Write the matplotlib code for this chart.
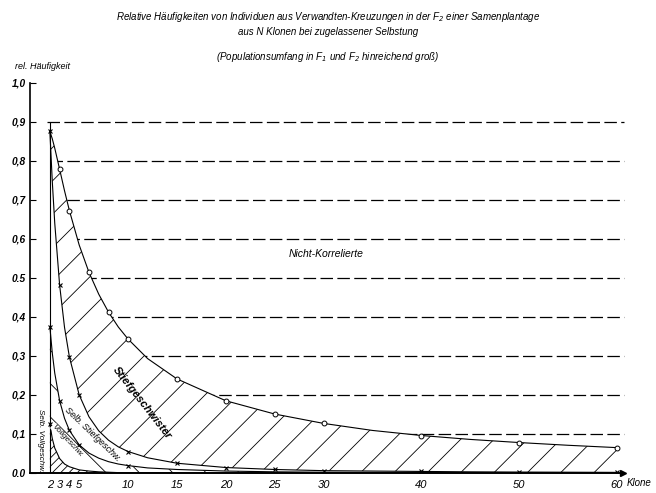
import numpy as np
import matplotlib
matplotlib.use("Agg")
import matplotlib.pyplot as plt

# number of clones N and cumulative relative frequencies
n_klone = [2, 2.25, 2.5, 3, 3.5, 4, 5, 6, 7, 8, 9, 10, 12, 15, 20, 25, 30, 35, 40, 45, 50, 55, 60]
# upper edge "Selb. Vollgeschw."
selb_voll = [0.125, 0.088, 0.064, 0.037, 0.023, 0.016, 0.008, 0.005, 0.003, 0.002, 0.001, 0.001,
             0.001, 0.0003, 0.0001, 0.0001, 0.0, 0.0, 0.0, 0.0, 0.0, 0.0, 0.0]
# upper edge "Vollgeschw."
voll = [0.375, 0.307, 0.256, 0.185, 0.140, 0.109, 0.072, 0.051, 0.038, 0.029, 0.023, 0.019,
        0.013, 0.009, 0.005, 0.003, 0.002, 0.0016, 0.0012, 0.001, 0.0008, 0.0007, 0.0006]
# upper edge "Selb. Stiefgeschw."
selb_stief = [0.875, 0.746, 0.640, 0.481, 0.373, 0.297, 0.200, 0.144, 0.108, 0.084, 0.067, 0.055,
              0.039, 0.025, 0.014, 0.009, 0.006, 0.005, 0.004, 0.003, 0.0024, 0.002, 0.0016]
# upper edge "Stiefgeschwister" (rest = Nicht-Korrelierte)
stief = [0.875, 0.856, 0.832, 0.778, 0.723, 0.672, 0.584, 0.514, 0.458, 0.412, 0.374, 0.343,
         0.293, 0.241, 0.185, 0.151, 0.127, 0.109, 0.096, 0.086, 0.078, 0.071, 0.065]

kreis_n = [3, 4, 6, 8, 10, 15, 20, 25, 30, 40, 50, 60]
kreis_y = [0.778, 0.672, 0.514, 0.412, 0.343, 0.241, 0.185, 0.151, 0.127, 0.096, 0.078, 0.065]
kreuz_n = [3, 4, 5, 10, 15, 20, 25, 30, 40, 50, 60]
kreuz_y = [0.481, 0.297, 0.200, 0.055, 0.025, 0.014, 0.009, 0.006, 0.004, 0.0024, 0.0016]
voll_pn = [2, 3, 4, 5, 10]
voll_py = [0.375, 0.185, 0.109, 0.072, 0.019]

x_ticks = [2, 3, 4, 5, 10, 15, 20, 25, 30, 40, 50, 60]
y_ticks = [0.0, 0.1, 0.2, 0.3, 0.4, 0.5, 0.6, 0.7, 0.8, 0.9, 1.0]
y_labels = ["0.0", "0,1", "0,2", "0,3", "0,4", "0.5", "0,6", "0,7", "0,8", "0,9", "1,0"]
grid_levels = np.array([0.1, 0.2, 0.3, 0.4, 0.5, 0.6, 0.7, 0.8, 0.9])

FONT = ["Liberation Sans", "DejaVu Sans"]
plt.rcParams["font.family"] = FONT
plt.rcParams["font.style"] = "italic"
plt.rcParams["hatch.linewidth"] = 0.6

fig = plt.figure(figsize=(6.56, 4.93), dpi=100)
ax = fig.add_axes([30.3 / 656, 1 - 473 / 493, 61 * 9.778 / 656, 390.4 / 493])
ax.set_xlim(0, 61)
ax.set_ylim(0, 1.0)

# dashed lines, only visible above the top curve
starts = np.where(grid_levels > 0.88, 1.7, 2.0)
ax.hlines(grid_levels, starts, 60.7, colors="k", linewidth=0.9,
          linestyles=(0, (10, 3.5)), zorder=1)
ax.fill_between(n_klone, 0, stief, facecolor="white", linewidth=0, zorder=1.5)

# hatched bands
ax.fill_between(n_klone, selb_stief, stief, facecolor="none", edgecolor="k",
                hatch="/", linewidth=0, zorder=2)
ax.fill_between(n_klone, selb_voll, voll, facecolor="none", edgecolor="k",
                hatch="\\", linewidth=0, zorder=2)
ax.fill_between(n_klone, 0, selb_voll, facecolor="none", edgecolor="k",
                hatch="////", linewidth=0, zorder=2)

for curve in (selb_voll, voll, selb_stief, stief):
    ax.plot(n_klone, curve, color="k", linewidth=0.8, zorder=3)

ax.vlines(2, 0, 0.9, colors="k", linewidth=0.8, zorder=3)

ax.plot(kreis_n, kreis_y, "o", ms=3.5, mfc="white", mec="k", mew=0.7, zorder=4)
ax.plot(kreuz_n, kreuz_y, "x", ms=2.5, color="k", mew=0.8, zorder=4)
ax.plot(voll_pn, voll_py, "x", ms=2.5, color="k", mew=0.8, zorder=4)
ax.plot([2, 2], [0.875, 0.125], "x", ms=2.5, color="k", mew=0.8, zorder=4)

# axes
for s in ("top", "right"):
    ax.spines[s].set_visible(False)
ax.spines["left"].set_linewidth(1.2)
ax.spines["bottom"].set_linewidth(1.4)
ax.spines["bottom"].set_bounds(0, 60.6)
ax.plot([60.6], [0], ">", ms=4, color="k", clip_on=False, zorder=5)

ax.set_xticks(x_ticks)
ax.set_xticklabels([str(t) for t in x_ticks])
ax.set_yticks(y_ticks)
ax.set_yticklabels(y_labels)
ax.tick_params(axis="x", length=0, pad=5, labelsize=8)
ax.tick_params(axis="y", direction="in", length=4, width=0.8, pad=3, labelsize=7.3)
for lab in ax.get_yticklabels():
    lab.set_fontweight("bold")

ax.text(61.0, -0.026, "Klone", fontsize=7, va="center", ha="left", clip_on=False)
ax.text(-1.6, 1.03, "rel. Häufigkeit", fontsize=6.5, ha="left", va="bottom")

# region names
ax.text(30.3, 0.56, "Nicht-Korrelierte", fontsize=7.5, ha="center", va="center")
ax.text(11.4, 0.18, "Stiefgeschwister", fontsize=8, fontweight="bold",
        rotation=-52, ha="center", va="center", zorder=6)
ax.text(6.4, 0.098, "Selb. Stiefgeschw.", fontsize=6.5, rotation=-44,
        ha="center", va="center", zorder=6)
ax.text(3.8, 0.082, "Vollgeschw.", fontsize=5.8, rotation=-47,
        ha="center", va="center", zorder=6,
        bbox=dict(facecolor="white", edgecolor="none", pad=0.3))
ax.text(1.0, 0.084, "Selb. Vollgeschw.", fontsize=5.8, rotation=-90,
        ha="center", va="center", zorder=6)

fig.text(0.5, 1 - 17 / 493, "Relative Häufigkeiten von Individuen aus Verwandten-Kreuzungen "
         "in der F$_2$ einer Samenplantage", ha="center", va="center", fontsize=7)
fig.text(0.5, 1 - 32 / 493, "aus N Klonen bei zugelassener Selbstung",
         ha="center", va="center", fontsize=7)
fig.text(0.5, 1 - 57 / 493, "(Populationsumfang in F$_1$ und F$_2$ hinreichend groß)",
         ha="center", va="center", fontsize=7)

fig.savefig("out.png", dpi=100)
